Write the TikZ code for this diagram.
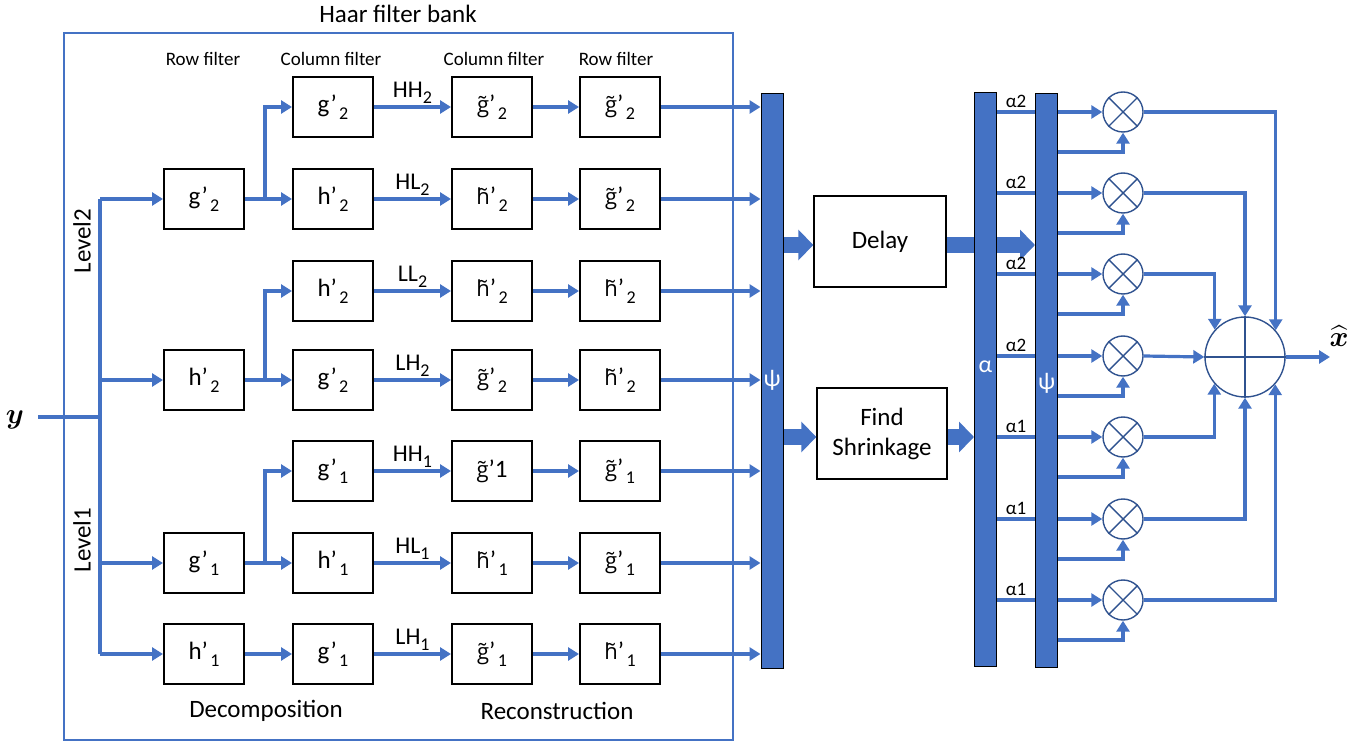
\documentclass[tikz,border=0pt]{standalone}
\usepackage{fontspec}
\setmainfont{Carlito}
\newfontfamily\tfont[Scale=0.88]{Open Sans}
\usepackage{amsmath,bm}
\usetikzlibrary{arrows.meta,calc}
\definecolor{lblue}{HTML}{4472C4}
\definecolor{dblue}{HTML}{2F528F}
\pgfdeclarelayer{bg}
\pgfsetlayers{bg,main}
\newcommand\lsub[1]{\raisebox{-0.55ex}{\fontsize{9}{9}\selectfont #1}}
\newcommand\fl[2]{#1’\hspace{1.2pt}\lsub{#2}}
\newcommand\gt{{\tfont g̃}}
\newcommand\hht{{\tfont h̃}}
\begin{document}
\begin{tikzpicture}[x=0.5pt,y=-0.5pt,
  box/.style={draw=black,line width=1pt,minimum width=40pt,minimum height=30pt,inner sep=0pt,font=\fontsize{12.5}{14}\selectfont},
  hdr/.style={font=\fontsize{9.5}{11}\selectfont},
  big/.style={font=\fontsize{12.5}{15}\selectfont},
  conn/.style={draw=lblue,line width=1.6pt},
  arr/.style={conn,-{Triangle[length=5.5pt,width=6.5pt]}},
  bar/.style={draw=black,line width=0.5pt,fill=lblue,minimum width=11pt,inner sep=0pt},
  barlab/.style={text=white,font=\fontsize{12}{14}\selectfont},
  fat/.style={draw=lblue,line width=8pt,-{Triangle[length=7.5pt,width=15pt]}},
  mul/.style={circle,draw=dblue,line width=0.7pt,minimum size=20pt,inner sep=0pt},
  sum/.style={circle,draw=dblue,line width=0.7pt,minimum size=40pt,inner sep=0pt},
  lbl/.style={font=\fontsize{12}{14}\selectfont,inner sep=1pt},
  alab/.style={font=\fontsize{9.5}{11}\selectfont,inner sep=1.5pt}
]
\useasboundingbox (0,0) rectangle (1371,743);

% frame and texts
\draw[lblue,line width=1.2pt] (64,33) rectangle (733,740);
\node[big] (title) at (398,14) {Haar filter bank};
\node[hdr] (h1) at (203,59) {Row filter};
\node[hdr] (h2) at (331,59) {Column filter};
\node[hdr] (h3) at (494,59) {Column filter};
\node[hdr] (h4) at (616,59) {Row filter};
\node[big] (dec) at (266,711) {Decomposition};
\node[big] (rec) at (557,711) {Reconstruction};
\node[big,rotate=90] (lv2) at (82,241) {Level2};
\node[big,rotate=90] (lv1) at (82,540) {Level1};

% column 1
\node[box] (a2) at (204,199) {\fl{g}{2}};
\node[box] (a4) at (204,380) {\fl{h}{2}};
\node[box] (a6) at (204,563) {\fl{g}{1}};
\node[box] (a7) at (204,654) {\fl{h}{1}};
% column 2
\node[box] (b1) at (333,107) {\fl{g}{2}};
\node[box] (b2) at (333,199) {\fl{h}{2}};
\node[box] (b3) at (333,291) {\fl{h}{2}};
\node[box] (b4) at (333,380) {\fl{g}{2}};
\node[box] (b5) at (333,471) {\fl{g}{1}};
\node[box] (b6) at (333,563) {\fl{h}{1}};
\node[box] (b7) at (333,654) {\fl{g}{1}};
% column 3
\node[box] (c1) at (492,107) {\fl{\gt}{2}};
\node[box] (c2) at (492,199) {\fl{\hht}{2}};
\node[box] (c3) at (492,291) {\fl{\hht}{2}};
\node[box] (c4) at (492,380) {\fl{\gt}{2}};
\node[box] (c5) at (492,471) {\gt’1};
\node[box] (c6) at (492,563) {\fl{\hht}{1}};
\node[box] (c7) at (492,654) {\fl{\gt}{1}};
% column 4
\node[box] (d1) at (620,107) {\fl{\gt}{2}};
\node[box] (d2) at (620,199) {\fl{\gt}{2}};
\node[box] (d3) at (620,291) {\fl{\hht}{2}};
\node[box] (d4) at (620,380) {\fl{\hht}{2}};
\node[box] (d5) at (620,471) {\fl{\gt}{1}};
\node[box] (d6) at (620,563) {\fl{\gt}{1}};
\node[box] (d7) at (620,654) {\fl{\hht}{1}};

% input
\node[font=\fontsize{14}{14}\selectfont] (ylab) at (15,420) {$\bm{y}$};
\coordinate (yin) at (38,417);
\coordinate (bustop) at (100,199);
\coordinate (busbot) at (100,654);
\draw[conn] (yin) -- (yin -| bustop);
\draw[conn] (bustop) -- (busbot);
\draw[arr] (bustop) -- (a2.west);
\draw[arr] (bustop |- a4) -- (a4.west);
\draw[arr] (bustop |- a6) -- (a6.west);
\draw[arr] (busbot) -- (a7.west);

% branches
\coordinate (j2) at (265,199);
\coordinate (j4) at (265,380);
\coordinate (j6) at (265,563);
\draw[arr] (a2.east) -- (b2.west);
\draw[arr] (j2) |- (b1.west);
\draw[arr] (a4.east) -- (b4.west);
\draw[arr] (j4) |- (b3.west);
\draw[arr] (a6.east) -- (b6.west);
\draw[arr] (j6) |- (b5.west);
\draw[arr] (a7.east) -- (b7.west);

% column 2 -> 3 with labels
\draw[arr] (b1.east) -- node[above,lbl] {HH\lsub{2}} (c1.west);
\draw[arr] (b2.east) -- node[above,lbl] {HL\lsub{2}} (c2.west);
\draw[arr] (b3.east) -- node[above,lbl] {LL\lsub{2}} (c3.west);
\draw[arr] (b4.east) -- node[above,lbl] {LH\lsub{2}} (c4.west);
\draw[arr] (b5.east) -- node[above,lbl] {HH\lsub{1}} (c5.west);
\draw[arr] (b6.east) -- node[above,lbl] {HL\lsub{1}} (c6.west);
\draw[arr] (b7.east) -- node[above,lbl] {LH\lsub{1}} (c7.west);
% column 3 -> 4
\foreach \i in {1,...,7} {\draw[arr] (c\i.east) -- (d\i.west);}

% bars
\node[bar,minimum height=287pt] (psi1) at (772,381) {};
\node[bar,minimum height=286.5pt] (alpha) at (985.5,379.5) {};
\node[bar,minimum height=286.5pt] (psi2) at (1046.5,380.5) {};
\node[barlab] (psi1l) at (772,380) {ψ};
\node[barlab] (alphal) at (985.5,367) {α};
\node[barlab] (psi2l) at (1046.5,383) {ψ};
\foreach \i in {1,...,7} {\draw[arr] (d\i.east) -- (d\i.east -| psi1.west);}

% delay / shrinkage
\node[draw=black,line width=0.7pt,minimum width=66pt,minimum height=45.5pt,big] (delay) at (880,241.5) {Delay};
\node[draw=black,line width=0.7pt,minimum width=65pt,minimum height=45.5pt,big,align=center] (shrink) at (882,433.5) {Find\\Shrinkage};
\coordinate (fd) at (790,245);
\coordinate (fs) at (790,437);
\draw[fat] (psi1.east |- fd) -- (delay.west |- fd);
\draw[fat] (psi1.east |- fs) -- (shrink.west |- fs);
\draw[fat] (shrink.east |- fs) -- (alpha.west |- fs);
\begin{pgfonlayer}{bg}
\draw[fat] (delay.east |- fd) -- (psi2.west |- fd);
\end{pgfonlayer}

% multipliers
\node[mul] (m1) at (1123,112) {};
\node[mul] (m2) at (1123,193) {};
\node[mul] (m3) at (1123,274) {};
\node[mul] (m4) at (1123,356) {};
\node[mul] (m5) at (1123,437) {};
\node[mul] (m6) at (1123,519) {};
\node[mul] (m7) at (1123,600) {};
\node[sum] (s) at (1245,357) {};
\draw[dblue,line width=0.7pt] (s.north) -- (s.south) (s.west) -- (s.east);
\foreach \i/\a in {1/2,2/2,3/2,4/2,5/1,6/1,7/1} {
  \draw[dblue,line width=0.7pt] (m\i.45) -- (m\i.225) (m\i.135) -- (m\i.315);
  \draw[conn] (alpha.east |- m\i) -- node[above,alab] {α\a} (psi2.west |- m\i);
  \draw[arr] (psi2.east |- m\i) -- (m\i.west);
  \coordinate (q\i) at ($(m\i)+(0,40)$);
  \draw[arr] (psi2.east |- q\i) -| (m\i.south);
}
\draw[arr] (m1.east) -| (s.41.4);
\draw[arr] (m2.east) -| (s.north);
\draw[arr] (m3.east) -| (s.138.6);
\draw[arr] (m4.east) -- (s.west);
\draw[arr] (m5.east) -| (s.221.4);
\draw[arr] (m6.east) -| (s.south);
\draw[arr] (m7.east) -| (s.318.6);
\coordinate (xout) at (1330,357);
\draw[arr] (s.east) -- (xout);
\node[font=\fontsize{15}{15}\selectfont] (xhat) at (1339,336) {$\widehat{\bm{x}}$};
\end{tikzpicture}
\end{document}
